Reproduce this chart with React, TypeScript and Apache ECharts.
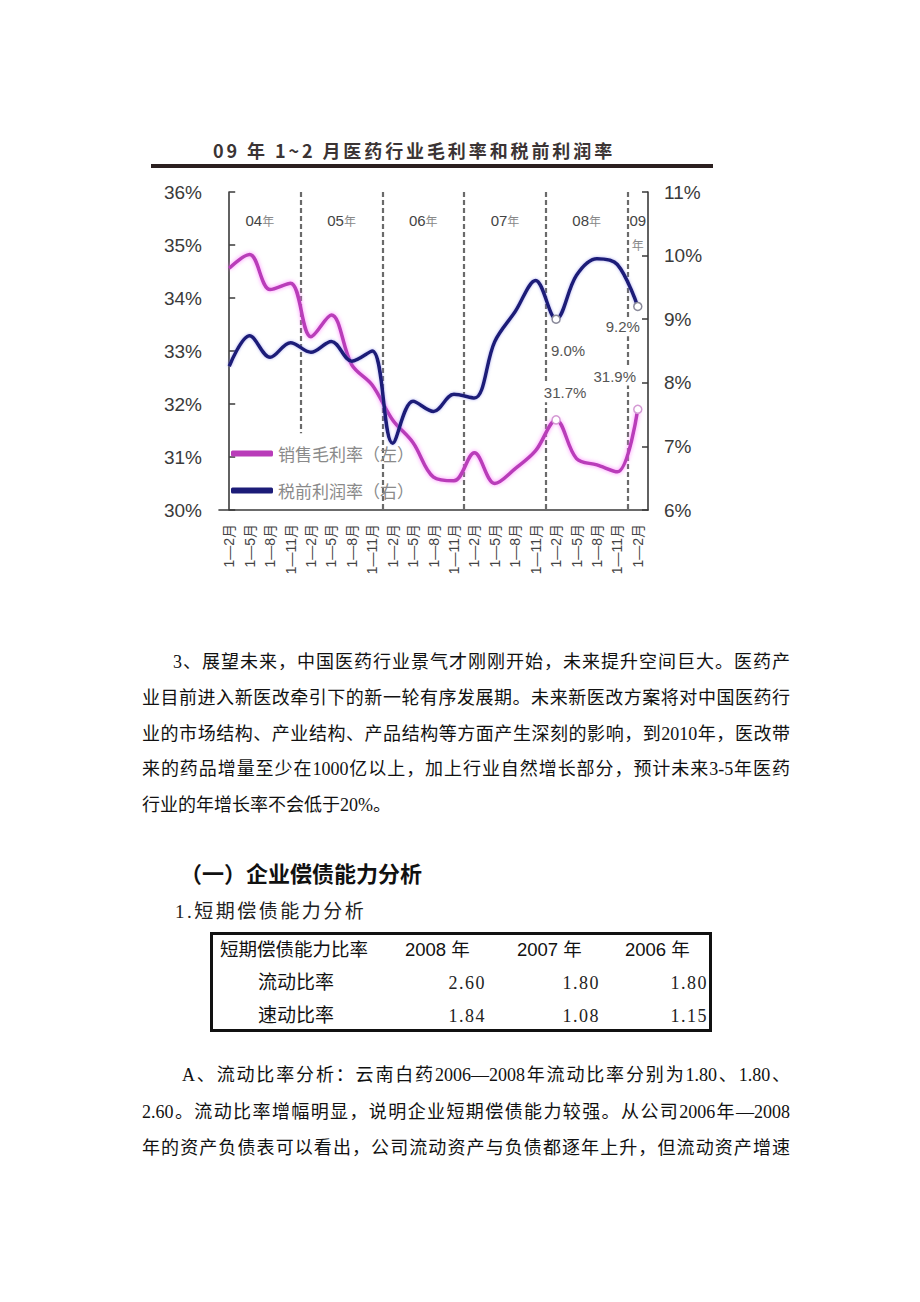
import React, { useEffect, useRef } from 'react';
import * as echarts from 'echarts';

// ---------- data ----------
const periods = [
  '1—2月', '1—5月', '1—8月', '1—11月',
  '1—2月', '1—5月', '1—8月', '1—11月',
  '1—2月', '1—5月', '1—8月', '1—11月',
  '1—2月', '1—5月', '1—8月', '1—11月',
  '1—2月', '1—5月', '1—8月', '1—11月',
  '1—2月',
];
const years = ['04', '05', '06', '07', '08', '09'];
const yearStart = [-0.5, 3.5, 7.5, 11.5, 15.5, 19.5];
const yearEnd = [3.5, 7.5, 11.5, 15.5, 19.5, 20.5];
const dividers = [3.5, 7.5, 11.5, 15.5, 19.5];

// 销售毛利率（左） %
const grossMargin = [
  34.56, 34.82, 34.16, 34.28, 33.27, 33.68, 32.74, 32.36, 31.70, 31.27,
  30.62, 30.55, 31.08, 30.50, 30.78, 31.12, 31.70, 30.97, 30.85, 30.72, 31.90,
];
// 税前利润率（右） %
const pretaxMargin = [
  8.26, 8.74, 8.40, 8.63, 8.48, 8.65, 8.34, 8.50, 7.05, 7.71,
  7.55, 7.82, 7.76, 8.65, 9.12, 9.61, 9.00, 9.69, 9.95, 9.86, 9.20,
];
const highlighted = [16, 20];

const seriesNames = ['销售毛利率（左）', '税前利润率（右）'];
const chartTitle = '09 年 1~2 月医药行业毛利率和税前利润率';

const para1 = [
  '3、展望未来，中国医药行业景气才刚刚开始，未来提升空间巨大。医药产',
  '业目前进入新医改牵引下的新一轮有序发展期。未来新医改方案将对中国医药行',
  '业的市场结构、产业结构、产品结构等方面产生深刻的影响，到2010年，医改带',
  '来的药品增量至少在1000亿以上，加上行业自然增长部分，预计未来3-5年医药',
  '行业的年增长率不会低于20%。',
];
const heading1 = '（一）企业偿债能力分析';
const heading2 = '1.短期偿债能力分析';
const tableHeader = ['短期偿债能力比率', '2008 年', '2007 年', '2006 年'];
const tableRows = [
  { name: '流动比率', values: ['2.60', '1.80', '1.80'] },
  { name: '速动比率', values: ['1.84', '1.08', '1.15'] },
];
const paraA = [
  'A、流动比率分析：云南白药2006—2008年流动比率分别为1.80、1.80、',
  '2.60。流动比率增幅明显，说明企业短期偿债能力较强。从公司2006年—2008',
  '年的资产负债表可以看出，公司流动资产与负债都逐年上升，但流动资产增速',
];

// ---------- styles ----------
const SANS = "'Liberation Sans', 'Noto Sans CJK SC', sans-serif";
const SERIF = "'Liberation Serif', 'Noto Sans CJK SC', serif";
const CJK = "'Noto Sans CJK SC', sans-serif";

function buildOption() {
  const labelStyle = {
    show: true,
    fontSize: 15,
    color: '#555',
    fontFamily: SANS,
    backgroundColor: '#fff',
    padding: [2, 2],
  };
  const pinkOffsets: Record<number, number[]> = { 16: [9, -8], 20: [-23, -14] };
  const blueOffsets: Record<number, number[]> = { 16: [12, 12], 20: [-15, 1] };

  const pinkData = grossMargin.map((v, i) =>
    highlighted.includes(i)
      ? {
          value: v,
          symbol: 'circle',
          symbolSize: 8,
          itemStyle: { color: '#fff', borderColor: '#d49ad4', borderWidth: 1.5 },
          label: { ...labelStyle, position: 'top', offset: pinkOffsets[i], formatter: v.toFixed(1) + '%' },
        }
      : v
  );
  const blueData = pretaxMargin.map((v, i) =>
    highlighted.includes(i)
      ? {
          value: v,
          symbol: 'circle',
          symbolSize: 8,
          itemStyle: { color: '#fff', borderColor: '#8a8a9a', borderWidth: 1.5 },
          label: { ...labelStyle, position: 'bottom', offset: blueOffsets[i], formatter: v.toFixed(1) + '%' },
        }
      : v
  );

  const axisLine = { show: true, lineStyle: { color: '#3a3a3a', width: 1.6 } };

  return {
    animation: false,
    backgroundColor: 'transparent',
    textStyle: { fontFamily: SANS },
    grid: { left: 219, right: 272, top: 192, bottom: 90, containLabel: false },
    legend: {
      data: seriesNames,
      orient: 'vertical',
      left: 226,
      top: 440,
      icon: 'roundRect',
      itemWidth: 42,
      itemHeight: 6,
      itemGap: 20,
      textStyle: { fontSize: 17, color: '#8a8a8a', fontFamily: CJK },
    },
    xAxis: [
      {
        type: 'category',
        data: periods,
        boundaryGap: true,
        axisLine,
        axisTick: { show: false },
        axisLabel: {
          interval: 0,
          rotate: 90,
          margin: 14,
          fontSize: 14,
          color: '#444',
          fontFamily: SANS,
        },
        splitLine: { show: false },
      },
      {
        type: 'value',
        min: -0.5,
        max: 20.5,
        show: false,
        splitLine: { show: false },
      },
    ],
    yAxis: [
      {
        type: 'value',
        position: 'left',
        min: 30,
        max: 36,
        interval: 1,
        axisLine,
        axisTick: { show: true, inside: true, length: 6, lineStyle: { color: '#3a3a3a', width: 1.5 } },
        axisLabel: { formatter: '{value}%', fontSize: 19, color: '#3a3a3a', margin: 17, fontFamily: SANS },
        splitLine: { show: false },
      },
      {
        type: 'value',
        position: 'right',
        min: 6,
        max: 11,
        interval: 1,
        axisLine,
        axisTick: { show: true, inside: true, length: 6, lineStyle: { color: '#3a3a3a', width: 1.5 } },
        axisLabel: { formatter: '{value}%', fontSize: 19, color: '#3a3a3a', margin: 16, fontFamily: SANS },
        splitLine: { show: false },
      },
    ],
    series: [
      {
        type: 'line',
        xAxisIndex: 1,
        yAxisIndex: 0,
        data: [],
        silent: true,
        z: 1,
        markLine: {
          silent: true,
          z: 1,
          symbol: ['none', 'none'],
          label: { show: false },
          lineStyle: { color: '#6a6a6a', type: [5, 3], width: 2.2 },
          data: dividers.map((d, k) =>
            k === 0
              ? [{ coord: [d, 36] }, { coord: [d, 31.45] }]
              : [{ coord: [d, 36] }, { coord: [d, 30] }]
          ),
        },
        markArea: {
          silent: true,
          z: 1,
          itemStyle: { color: 'rgba(0,0,0,0)' },
          label: {
            position: 'insideTop',
            distance: 16,
            color: '#444',
            fontSize: 15,
            fontFamily: SANS,
            lineHeight: 24,
            rich: {
              n: { fontSize: 15, color: '#444', fontFamily: SANS, lineHeight: 24 },
              y: { fontSize: 12, color: '#888', fontFamily: CJK, lineHeight: 24 },
            },
          },
          data: years.map((y, k) => [
            {
              xAxis: yearStart[k],
              name: y,
              label: {
                formatter: k === years.length - 1 ? `{n|${y}}\n{y|年}` : `{n|${y}}{y|年}`,
              },
            },
            { xAxis: yearEnd[k] },
          ]),
        },
      },
      {
        name: seriesNames[0],
        type: 'line',
        xAxisIndex: 0,
        yAxisIndex: 0,
        data: pinkData,
        smooth: 0.35,
        symbol: 'none',
        showSymbol: true,
        z: 3,
        itemStyle: { color: '#b93cb9' },
        lineStyle: { color: '#b93cb9', width: 3.5, shadowColor: 'rgba(255,110,255,0.8)', shadowBlur: 4 },
      },
      {
        name: seriesNames[1],
        type: 'line',
        xAxisIndex: 0,
        yAxisIndex: 1,
        data: blueData,
        smooth: 0.35,
        symbol: 'none',
        showSymbol: true,
        z: 4,
        itemStyle: { color: '#1c1c78' },
        lineStyle: { color: '#1c1c78', width: 3.5, shadowColor: 'rgba(120,120,230,0.6)', shadowBlur: 3 },
      },
    ],
  };
}

const lineBox = (left: number, cy: number, width: number, justify: boolean): React.CSSProperties => ({
  position: 'absolute',
  left,
  top: cy - 15,
  width,
  height: 30,
  lineHeight: '30px',
  fontSize: 18,
  fontFamily: SERIF,
  color: '#111',
  textAlign: justify ? 'justify' : 'left',
  textAlignLast: justify ? 'justify' : 'left',
  whiteSpace: 'normal',
});

export default function App() {
  const ref = useRef<HTMLDivElement>(null);
  useEffect(() => {
    if (!ref.current) return;
    const chart = echarts.init(ref.current, null, { renderer: 'svg' });
    chart.setOption(buildOption() as any);
    return () => chart.dispose();
  }, []);

  const numRight = [486, 600, 708];
  const headX = [220, 405, 517, 625];

  return (
    <div
      style={{
        position: 'absolute',
        left: 0,
        top: 0,
        width: 920,
        height: 1302,
        background: '#fff',
        overflow: 'hidden',
      }}
    >
      <div style={{ position: 'absolute', left: 0, top: 0, width: 920, height: 600 }} ref={ref} />

      {/* chart title */}
      <div
        style={{
          position: 'absolute',
          left: 213,
          top: 137,
          height: 26,
          lineHeight: '26px',
          fontSize: 18,
          fontWeight: 700,
          letterSpacing: 2.9,
          fontFamily: CJK,
          color: '#3b3434',
          whiteSpace: 'nowrap',
        }}
      >
        {chartTitle}
      </div>
      <div style={{ position: 'absolute', left: 151, top: 164, width: 562, height: 4, background: '#2b2020' }} />

      {/* paragraph 1 */}
      {para1.map((t, i) => {
        const cy = 662 + i * 35.75;
        const last = i === para1.length - 1;
        const left = i === 0 ? 173 : 142;
        return (
          <div key={'p1' + i} style={lineBox(left, cy, 790 - left, !last)}>
            {t}
          </div>
        );
      })}

      {/* headings */}
      <div
        style={{
          position: 'absolute',
          left: 180,
          top: 872 - 16,
          height: 32,
          lineHeight: '32px',
          fontSize: 22,
          fontWeight: 700,
          fontFamily: CJK,
          color: '#111',
          whiteSpace: 'nowrap',
        }}
      >
        {heading1}
      </div>
      <div
        style={{
          position: 'absolute',
          left: 175,
          top: 912 - 15,
          height: 30,
          lineHeight: '30px',
          fontSize: 19,
          letterSpacing: 2.5,
          fontFamily: SERIF,
          color: '#222',
          whiteSpace: 'nowrap',
        }}
      >
        {heading2}
      </div>

      {/* table */}
      <div
        style={{
          position: 'absolute',
          left: 210,
          top: 932,
          width: 502,
          height: 100,
          border: '3px solid #111',
          boxSizing: 'border-box',
        }}
      />
      {tableHeader.map((t, i) => (
        <div
          key={'h' + i}
          style={{
            position: 'absolute',
            left: headX[i],
            top: 950 - 14,
            height: 28,
            lineHeight: '28px',
            fontSize: 18.5,
            fontFamily: SANS,
            color: '#111',
            whiteSpace: 'nowrap',
          }}
        >
          {t}
        </div>
      ))}
      {tableRows.map((r, ri) => {
        const cy = 983 + ri * 32.5;
        return (
          <React.Fragment key={'r' + ri}>
            <div
              style={{
                position: 'absolute',
                left: 258,
                top: cy - 14,
                height: 28,
                lineHeight: '28px',
                fontSize: 19,
                fontFamily: SANS,
                color: '#111',
                whiteSpace: 'nowrap',
              }}
            >
              {r.name}
            </div>
            {r.values.map((v, vi) => (
              <div
                key={vi}
                style={{
                  position: 'absolute',
                  left: numRight[vi] - 60,
                  width: 60,
                  top: cy - 14,
                  height: 28,
                  lineHeight: '28px',
                  fontSize: 18,
                  letterSpacing: 1.5,
                  textAlign: 'right',
                  fontFamily: SERIF,
                  color: '#222',
                  whiteSpace: 'nowrap',
                }}
              >
                {v}
              </div>
            ))}
          </React.Fragment>
        );
      })}

      {/* paragraph A */}
      {paraA.map((t, i) => {
        const cy = 1075 + i * 36.5;
        const left = i === 0 ? 182 : 142;
        return (
          <div key={'pa' + i} style={lineBox(left, cy, 790 - left, true)}>
            {t}
          </div>
        );
      })}
    </div>
  );
}
